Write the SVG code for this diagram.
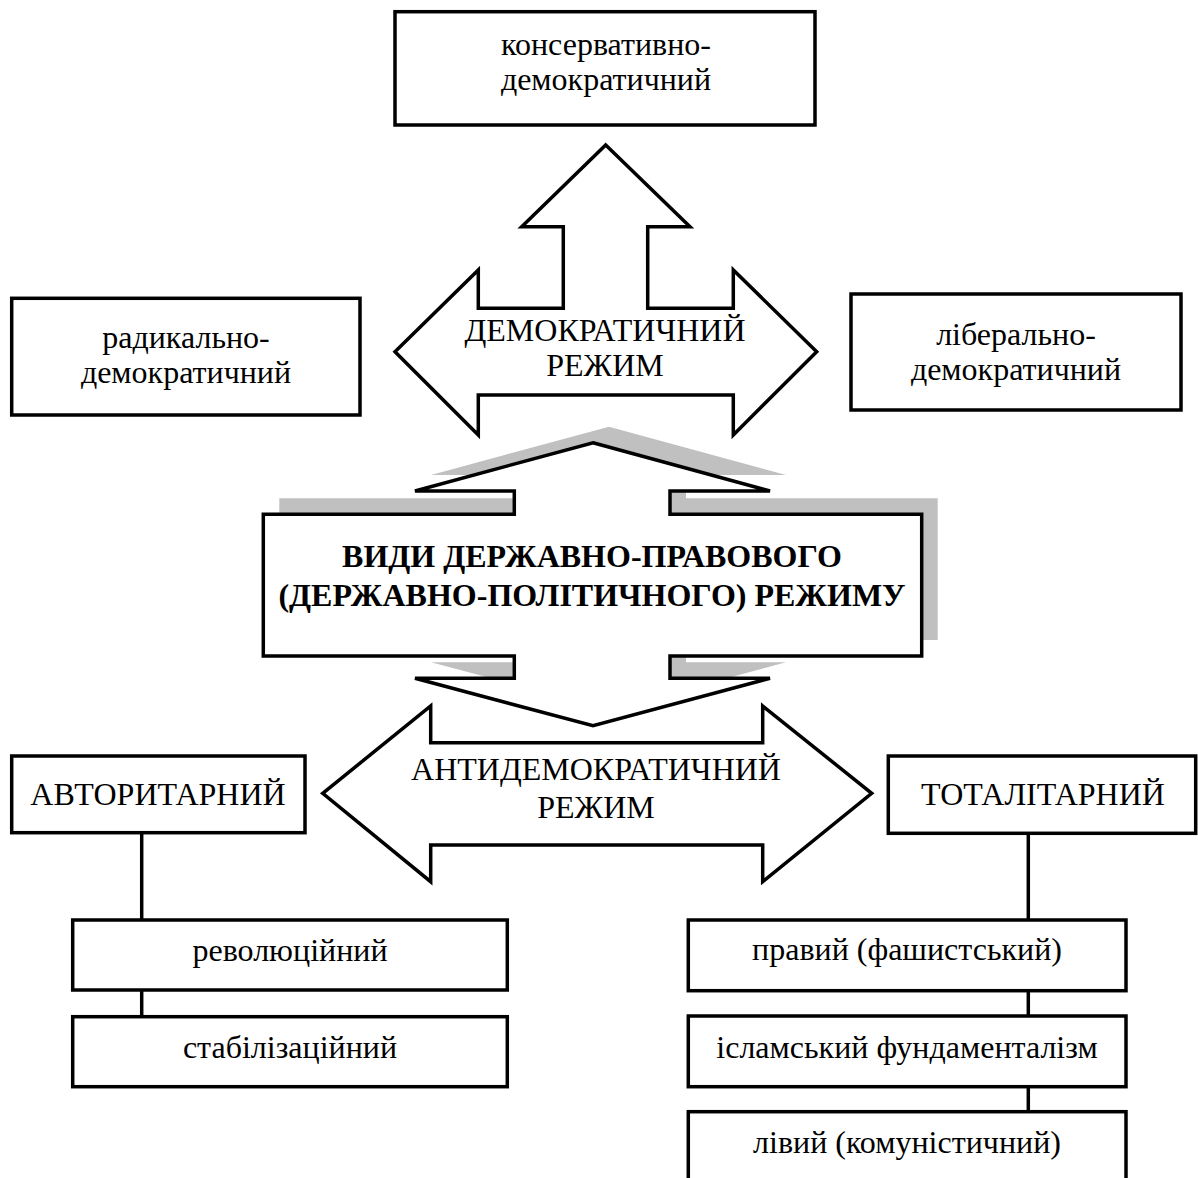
<svg xmlns="http://www.w3.org/2000/svg" width="1198" height="1178" viewBox="0 0 1198 1178">
<style>
.box{fill:#fff;stroke:#000;stroke-width:3.5}
.shape{fill:#fff;stroke:#000;stroke-width:3.5;stroke-linejoin:miter}
.shadow{fill:#c0c0c0;stroke:none}
.conn{stroke:#000;stroke-width:3.5;fill:none}
text{font-family:"Liberation Serif","Times New Roman",serif;font-size:32px;fill:#000;text-anchor:middle}
.bold{font-weight:bold}
</style>
<rect width="1198" height="1178" fill="#fff"/>

<g id="conservative">
<rect class="box" x="395" y="11.7" width="420" height="113.3"/>
<text x="606" y="55">консервативно-</text>
<text x="606" y="90">демократичний</text>
</g>

<g id="democratic">
<polygon class="shape" points="605.7,145 690,226.7 647.7,226.7 647.7,308.3 733.3,308.3 733.3,270 816.7,351.7 733.3,435 733.3,395 478.3,395 478.3,435 395,351.7 478.3,270 478.3,308.3 563.3,308.3 563.3,226.7 521.7,226.7"/>
<text x="605" y="341">ДЕМОКРАТИЧНИЙ</text>
<text x="605" y="376">РЕЖИМ</text>
</g>

<g id="radical">
<rect class="box" x="11.7" y="298.3" width="348.3" height="116.7"/>
<text x="186" y="348">радикально-</text>
<text x="186" y="383">демократичний</text>
</g>

<g id="liberal">
<rect class="box" x="851" y="294" width="330" height="116"/>
<text x="1016" y="345">ліберально-</text>
<text x="1016" y="380">демократичний</text>
</g>

<g id="central">
<polygon class="shadow" transform="translate(16,-16)" points="593,442.7 770,491 670,491 670,514.3 921.7,514.3 921.7,656 670,656 670,678.3 770,678.3 593,725.7 415,678.3 514.3,678.3 514.3,656 263.3,656 263.3,514.3 514.3,514.3 514.3,491 415,491"/>
<polygon class="shape" points="593,442.7 770,491 670,491 670,514.3 921.7,514.3 921.7,656 670,656 670,678.3 770,678.3 593,725.7 415,678.3 514.3,678.3 514.3,656 263.3,656 263.3,514.3 514.3,514.3 514.3,491 415,491"/>
<text class="bold" x="592" y="567">ВИДИ ДЕРЖАВНО-ПРАВОВОГО</text>
<text class="bold" x="592" y="606">(ДЕРЖАВНО-ПОЛІТИЧНОГО) РЕЖИМУ</text>
</g>

<g id="antidemocratic">
<polygon class="shape" points="322.7,793.3 430.7,706 430.7,742.7 762.7,742.7 762.7,706 871.7,793.3 762.7,881.7 762.7,845 430.7,845 430.7,881.7"/>
<text x="596" y="780">АНТИДЕМОКРАТИЧНИЙ</text>
<text x="596" y="817.7">РЕЖИМ</text>
</g>

<g id="connectors">
<line class="conn" x1="141.7" y1="832.7" x2="141.7" y2="920"/>
<line class="conn" x1="141.7" y1="990" x2="141.7" y2="1016.7"/>
<line class="conn" x1="1028.3" y1="833.3" x2="1028.3" y2="920"/>
<line class="conn" x1="1028.3" y1="990.7" x2="1028.3" y2="1016"/>
<line class="conn" x1="1028.3" y1="1086.7" x2="1028.3" y2="1111.7"/>
</g>

<g id="authoritarian">
<rect class="box" x="11.7" y="756" width="293.3" height="76.7"/>
<text x="158" y="805">АВТОРИТАРНИЙ</text>
</g>

<g id="totalitarian">
<rect class="box" x="888.3" y="756" width="307.4" height="77.3"/>
<text x="1043" y="805">ТОТАЛІТАРНИЙ</text>
</g>

<g id="revolutionary">
<rect class="box" x="72.7" y="920" width="434.6" height="70"/>
<text x="290" y="961">революційний</text>
</g>

<g id="stabilization">
<rect class="box" x="72.7" y="1016.7" width="434.6" height="70"/>
<text x="290" y="1058">стабілізаційний</text>
</g>

<g id="right-fascist">
<rect class="box" x="688.3" y="920" width="437.7" height="70.7"/>
<text x="907" y="960">правий (фашистський)</text>
</g>

<g id="islamic">
<rect class="box" x="688.3" y="1016" width="437.7" height="70.7"/>
<text x="907" y="1058">ісламський фундаменталізм</text>
</g>

<g id="left-communist">
<rect class="box" x="688.3" y="1111.7" width="437.7" height="72"/>
<text x="907" y="1153">лівий (комуністичний)</text>
</g>
</svg>
